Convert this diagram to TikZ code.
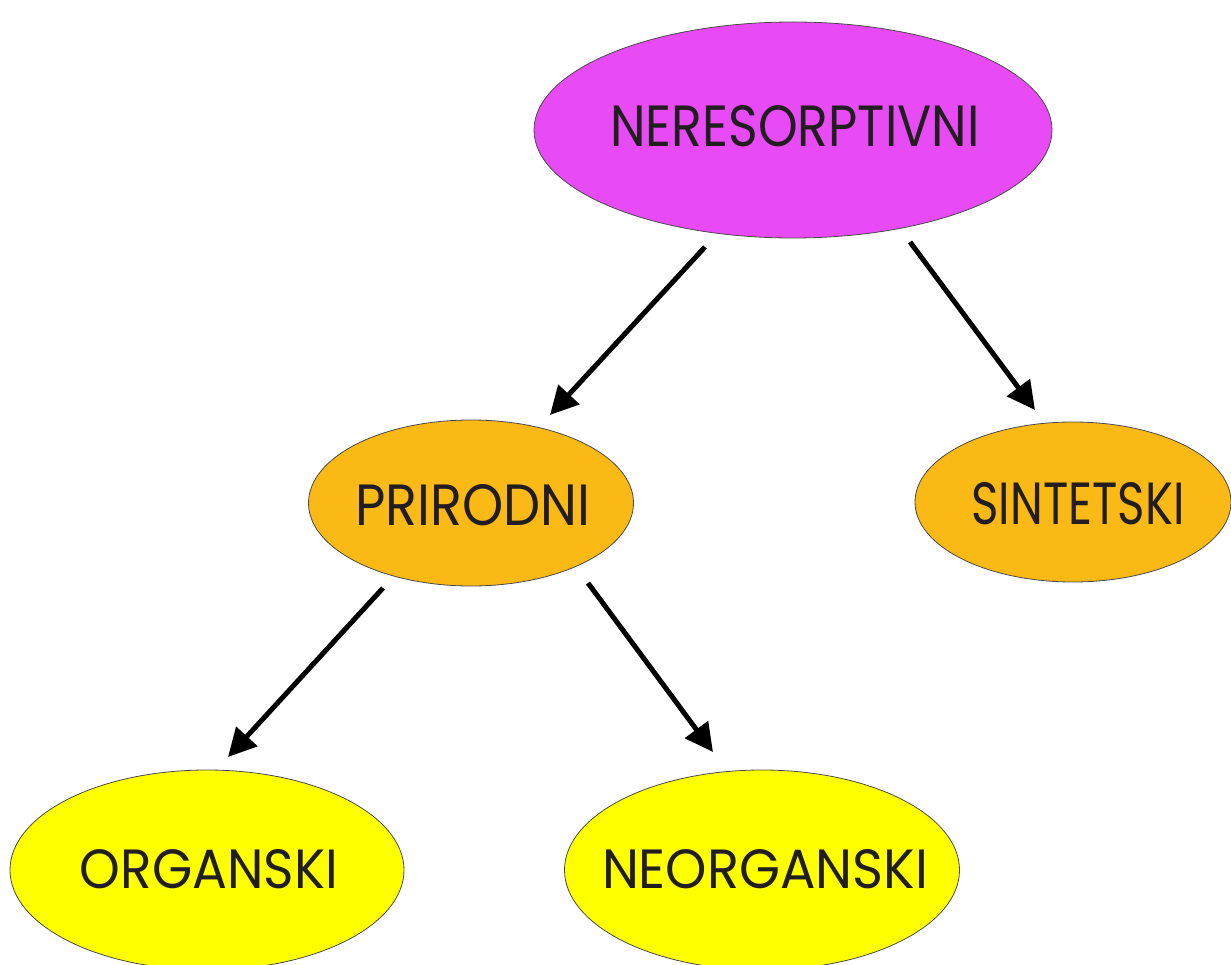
\documentclass[tikz,border=0pt]{standalone}
\usepackage{fontspec}
\setmainfont{Poppins}
\usetikzlibrary{shapes.geometric,arrows.meta}
\definecolor{magentafill}{HTML}{E84BF6}
\definecolor{orangefill}{HTML}{FBB915}
\definecolor{yellowfill}{HTML}{FFFF00}
\definecolor{edgegray}{HTML}{4A4A4A}
\definecolor{txtdark}{HTML}{221E1F}
\newcommand{\fitlab}[3]{\resizebox{#1pt}{#2pt}{#3}}
\tikzset{
  bubble/.style={ellipse, draw=edgegray, line width=0.8pt, inner sep=0pt, outer sep=0pt},
  lab/.style={inner sep=0pt, text=txtdark},
  arr/.style={line width=5pt, -{Triangle[length=28pt,width=28pt]}}
}
\begin{document}
\begin{tikzpicture}[x=1pt,y=-1pt]
\useasboundingbox (0,0) rectangle (1231,965);
% ellipses
\node[bubble, fill=magentafill, minimum width=518pt, minimum height=216pt] (ner) at (793,130) {};
\node[bubble, fill=orangefill, minimum width=325pt, minimum height=166pt] (pri) at (471,503) {};
\node[bubble, fill=orangefill, minimum width=316pt, minimum height=160pt] (sin) at (1073,502) {};
\node[bubble, fill=yellowfill, minimum width=394pt, minimum height=200pt] (org) at (207,870) {};
\node[bubble, fill=yellowfill, minimum width=395pt, minimum height=200pt] (neo) at (762,870) {};
% labels
\node[lab] (nert) at (795,126) {\fitlab{369}{41}{NERESORPTIVNI}};
\node[lab] (prit) at (473,505) {\fitlab{235}{41}{PRIRODNI}};
\node[lab] (sint) at (1078,504) {\fitlab{213}{42}{SINTETSKI}};
\node[lab] (orgt) at (209,869) {\fitlab{258}{39}{ORGANSKI}};
\node[lab] (neot) at (765,869) {\fitlab{326}{39}{NEORGANSKI}};
% connector end points
\coordinate (a1s) at (705,247); \coordinate (a1e) at (550,415);
\coordinate (a2s) at (910,242); \coordinate (a2e) at (1035,410);
\coordinate (a3s) at (383,588); \coordinate (a3e) at (228,757);
\coordinate (a4s) at (588,583); \coordinate (a4e) at (713,752);
\draw[arr] (a1s) -- (a1e);
\draw[arr] (a2s) -- (a2e);
\draw[arr] (a3s) -- (a3e);
\draw[arr] (a4s) -- (a4e);
\end{tikzpicture}
\end{document}
